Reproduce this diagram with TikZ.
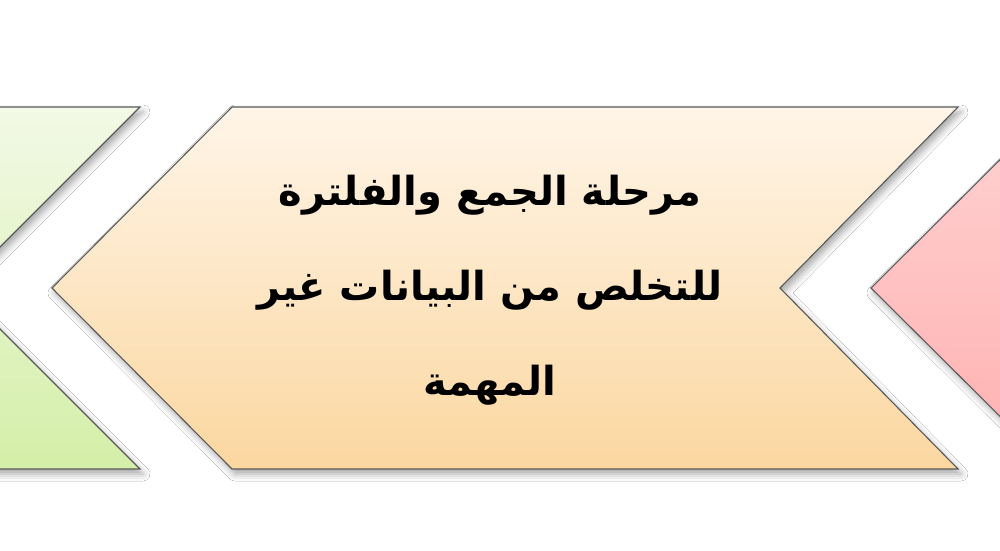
\documentclass[tikz,border=0pt]{standalone}
\usepackage{fontspec}
\TeXXeTstate=1
\newfontfamily\arabicfont[Script=Arabic]{DejaVu Sans}
\usetikzlibrary{shadows.blur}
\definecolor{orTop}{HTML}{FFF5E8}
\definecolor{orBot}{HTML}{FBD7A0}
\definecolor{grTop}{HTML}{F2F9E6}
\definecolor{grBot}{HTML}{D4EFA8}
\definecolor{rdTop}{HTML}{FFD2D2}
\definecolor{rdBot}{HTML}{FFB0B0}
\begin{document}
\begin{tikzpicture}[x=1pt,y=-1pt,
  chev/.style={draw=black!65, line width=1.1pt, line join=miter,
    blur shadow={shadow xshift=3pt, shadow yshift=-5pt, shadow blur radius=7pt, shadow opacity=35}},
  lbl/.style={align=center, font=\arabicfont\bfseries\fontsize{40}{95}\selectfont}]
\useasboundingbox (0,0) rectangle (1000,550);
\fill[white] (0,0) rectangle (1000,550);
\clip (0,0) rectangle (1000,550);
% green (left, partial)
\path[chev, top color=grTop, bottom color=grBot]
  (-330,107) -- (140,107) -- (-41,288) -- (140,469) -- (-330,469) -- cycle;
% orange (centre)
\path[chev, top color=orTop, bottom color=orBot]
  (232,107) -- (958,107) -- (780,288) -- (958,469) -- (232,469) -- (52,288) -- cycle;
% red (right, partial)
\path[chev, top color=rdTop, bottom color=rdBot]
  (1053,107) -- (1400,107) -- (1400,469) -- (1053,469) -- (871,288) -- cycle;
\node[lbl] (txt) at (490,290) {\beginR مرحلة الجمع والفلترة\endR\\
  \beginR للتخلص من البيانات غير\endR\\
  \beginR المهمة\endR};
\end{tikzpicture}
\end{document}
